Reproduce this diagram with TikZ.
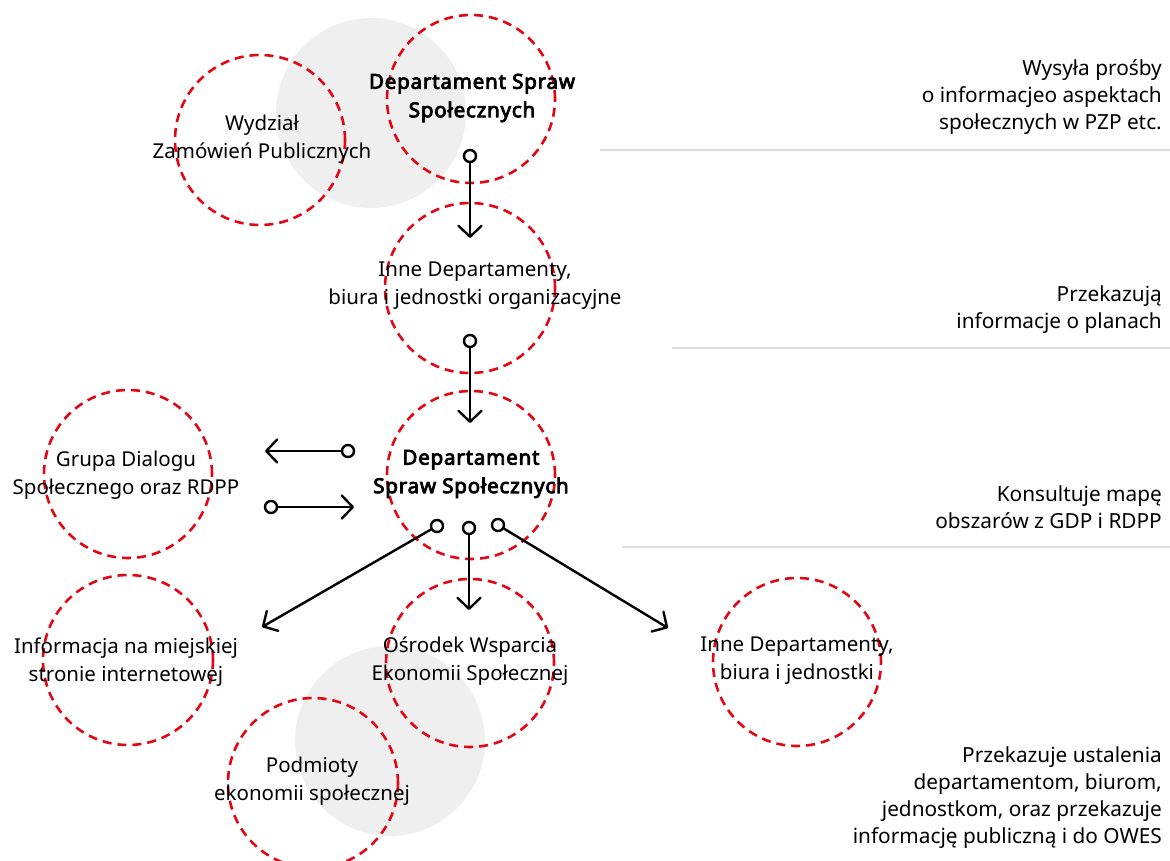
\documentclass[tikz,border=0pt]{standalone}
\usepackage{fontspec}
\setmainfont{Noto Sans}[BoldFont={Noto Sans}, BoldFeatures={FakeBold=4,LetterSpace=4}]
\usetikzlibrary{arrows.meta}
\definecolor{dred}{RGB}{227,6,19}
\definecolor{lgrey}{RGB}{239,239,239}
\definecolor{rulegrey}{RGB}{221,221,221}
\begin{document}
\begin{tikzpicture}[x=1pt,y=-1pt,
  ring/.style={circle, draw=dred, line width=2.6pt, dash pattern=on 9pt off 6pt, inner sep=0pt},
  blob/.style={circle, fill=lgrey, inner sep=0pt, minimum size=190pt},
  lbl/.style={align=center, font=\fontsize{20.5}{28}\selectfont, inner sep=0pt},
  boldlbl/.style={lbl, font=\fontsize{20.5}{28.5}\selectfont\bfseries},
  note/.style={align=right, anchor=east, font=\fontsize{20.8}{27}\selectfont, inner sep=0pt},
  dot/.style={circle, draw=black, fill=white, line width=2.4pt, minimum size=12pt, inner sep=0pt},
  flow/.style={line width=2.4pt, line cap=round, -{Straight Barb[length=11pt,width=23pt,line cap=round,line join=round]}},
  sep/.style={draw=rulegrey, line width=1.5pt}]
\useasboundingbox (0,0) rectangle (1170,861);

% grey background discs
\node[blob] (g1) at (371,113) {};
\node[blob] (g2) at (390,741) {};

% dashed rings
\node[ring, minimum size=168pt] (rdt) at (471,99) {};
\node[ring, minimum size=170pt] (rwz) at (260,140) {};
\node[ring, minimum size=170pt] (rin) at (470,288) {};
\node[ring, minimum size=168pt] (rds) at (471,475) {};
\node[ring, minimum size=168pt] (rgd) at (128,474) {};
\node[ring, minimum size=170pt] (rif) at (128,660) {};
\node[ring, minimum size=168pt] (ros) at (470,663) {};
\node[ring, minimum size=168pt] (rid) at (797,662) {};
\node[ring, minimum size=170pt] (rpo) at (313,783) {};

% labels
\node[boldlbl] (tdt) at (472,98) {Departament Spraw\\Społecznych};
\node[lbl] (twz) at (262,139) {Wydział\\Zamówień Publicznych};
\node[lbl] (tin) at (475,286) {Inne Departamenty,\\biura i jednostki organizacyjne};
\node[boldlbl] (tds) at (471,474) {Departament\\Spraw Społecznych};
\node[lbl] (tgd) at (126,475) {Grupa Dialogu\\Społecznego oraz RDPP};
\node[lbl] (tif) at (126,662) {Informacja na miejskiej\\stronie internetowej};
\node[lbl] (tos) at (470,661) {Ośrodek Wsparcia\\Ekonomii Społecznej};
\node[lbl] (tid) at (797,661) {Inne Departamenty,\\biura i jednostki};
\node[lbl] (tpo) at (312,781) {Podmioty\\ekonomii społecznej};

% right-hand notes and rules
\node[note] (n1) at (1162,97) {Wysyła prośby\\o informacjeo aspektach\\społecznych w PZP etc.};
\node[note] (n2) at (1162,310) {Przekazują\\informacje o planach};
\node[note] (n3) at (1162,507) {Konsultuje mapę\\obszarów z GDP i RDPP};
\node[note] (n4) at (1162,798) {Przekazuje ustalenia\\departamentom, biurom,\\jednostkom, oraz przekazuje\\informację publiczną i do OWES};
\coordinate (s1a) at (600,150); \coordinate (s1b) at (1170,150);
\coordinate (s2a) at (672,348); \coordinate (s2b) at (1170,348);
\coordinate (s3a) at (622,547); \coordinate (s3b) at (1170,547);
\draw[sep] (s1a) -- (s1b);
\draw[sep] (s2a) -- (s2b);
\draw[sep] (s3a) -- (s3b);

% connector start dots
\node[dot] (d1) at (470,156) {};
\node[dot] (d2) at (470,341) {};
\node[dot] (d3) at (348,451) {};
\node[dot] (d4) at (271,507) {};
\node[dot] (d5) at (437,526) {};
\node[dot] (d6) at (469,528) {};
\node[dot] (d7) at (498,525) {};
% connector ends
\coordinate (e1) at (470,238);
\coordinate (e2) at (470,423);
\coordinate (e3) at (265,451);
\coordinate (e4) at (354,507);
\coordinate (e5) at (262,627);
\coordinate (e6) at (469,610);
\coordinate (e7) at (668,628);
\draw[flow] (d1) -- (e1);
\draw[flow] (d2) -- (e2);
\draw[flow] (d3) -- (e3);
\draw[flow] (d4) -- (e4);
\draw[flow] (d5) -- (e5);
\draw[flow] (d6) -- (e6);
\draw[flow] (d7) -- (e7);
\end{tikzpicture}
\end{document}
